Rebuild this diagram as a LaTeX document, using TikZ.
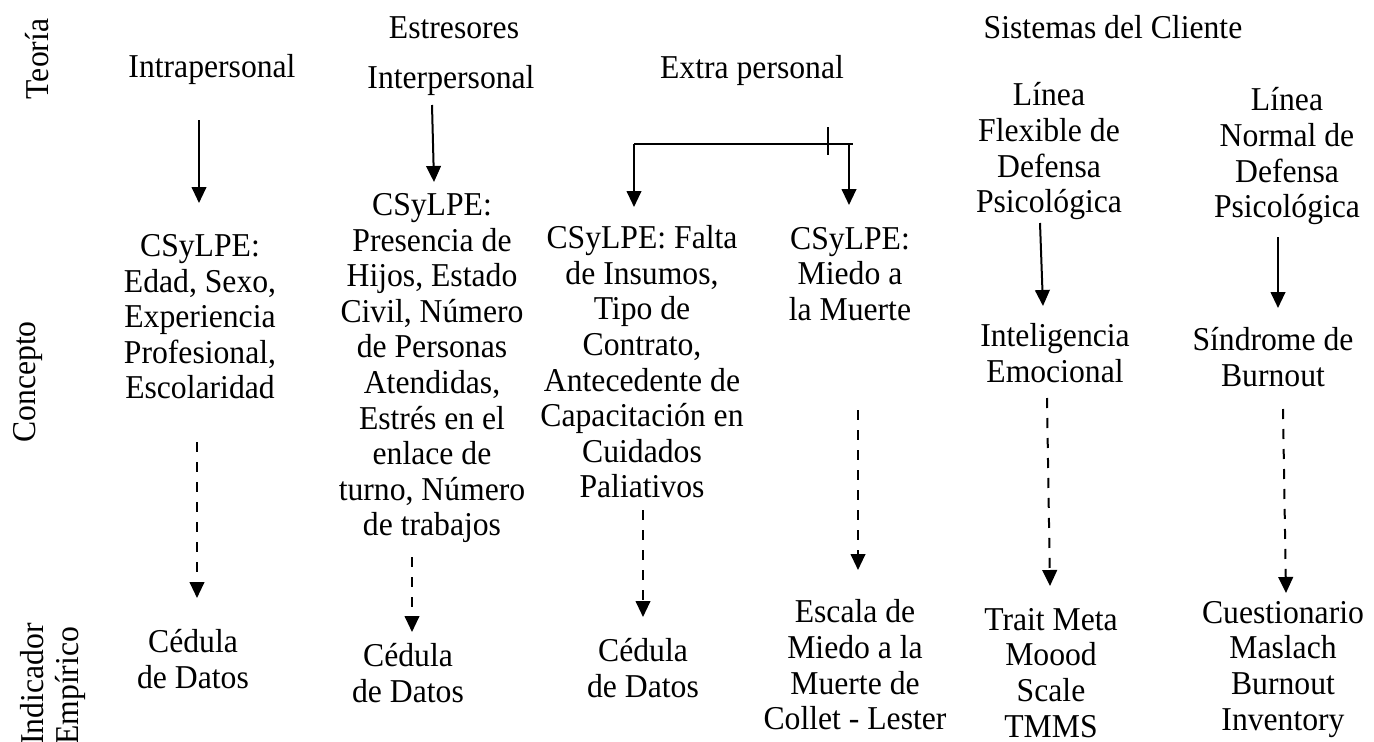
\documentclass[tikz,border=0pt]{standalone}
\usepackage{fontspec}
\setmainfont[FakeStretch=0.95]{Liberation Serif}
\usetikzlibrary{arrows.meta}
\begin{document}
\begin{tikzpicture}[x=0.75pt,y=-0.75pt,
  txt/.style={align=center, inner sep=0pt, font=\fontsize{25}{26.7}\selectfont,
    execute at begin node=\strut, execute at end node=\strut},
  side/.style={txt, rotate=90},
  arr/.style={line width=1.5pt, -{Triangle[width=11pt,length=12pt]}},
  darr/.style={arr, dash pattern=on 7.5pt off 7.5pt},
  thin/.style={line width=1pt},
  tick/.style={line width=0.8pt}]
\useasboundingbox (0,0) rectangle (1374,742);
% side labels
\node[side] (teo) at (41,59) {Teoría};
\node[side] (con) at (28,382) {Concepto};
\node[side, align=left, anchor=north west] (ind) at (20,745) {Indicador\\Empírico};
% headings
\node[txt] (est) at (454,31) {Estresores};
\node[txt] (sis) at (1113,31) {Sistemas del Cliente};
\node[txt] (intra) at (212,70) {Intrapersonal};
\node[txt] (inter) at (451,81) {Interpersonal};
\node[txt] (extra) at (752,71) {Extra personal};
\node[txt] (flex) at (1049,153) {Línea\\Flexible de\\Defensa\\Psicológica};
\node[txt] (norm) at (1287,158) {Línea\\Normal de\\Defensa\\Psicológica};
% concepts
\node[txt] (c1) at (200,322) {CSyLPE:\\Edad, Sexo,\\Experiencia\\Profesional,\\Escolaridad};
\node[txt] (c2) at (432,370) {CSyLPE:\\Presencia de\\Hijos, Estado\\Civil, Número\\de Personas\\Atendidas,\\Estrés en el\\enlace de\\turno, Número\\de trabajos};
\node[txt] (c3) at (642,367) {CSyLPE: Falta\\de Insumos,\\Tipo de\\Contrato,\\Antecedente de\\Capacitación en\\Cuidados\\Paliativos};
\node[txt] (c4) at (850,279) {CSyLPE:\\Miedo a\\la Muerte};
\node[txt] (c5) at (1055,358) {Inteligencia\\Emocional};
\node[txt] (c6) at (1273,362) {Síndrome de\\Burnout};
% indicators
\node[txt] (e1) at (193,664) {Cédula\\de Datos};
\node[txt] (e2) at (408,678) {Cédula\\de Datos};
\node[txt] (e3) at (643,673) {Cédula\\de Datos};
\node[txt] (e4) at (855,670) {Escala de\\Miedo a la\\Muerte de\\Collet - Lester};
\node[txt] (e5) at (1051,678) {Trait Meta\\Moood\\Scale\\TMMS};
\node[txt] (e6) at (1283,671) {Cuestionario\\Maslach\\Burnout\\Inventory};
% connector end points
\coordinate (a1s) at (199,120); \coordinate (a1e) at (199,203);
\coordinate (a2s) at (432,105); \coordinate (a2e) at (434,182);
\coordinate (bl) at (634,144); \coordinate (br) at (853,144);
\coordinate (bra) at (849,144);
\coordinate (b1e) at (634,207); \coordinate (b2e) at (849,205);
\coordinate (tk1) at (828,127); \coordinate (tk2) at (828,155);
\coordinate (a3s) at (1040,223); \coordinate (a3e) at (1043,306);
\coordinate (a4s) at (1278,237); \coordinate (a4e) at (1278,308);
\coordinate (d1s) at (197,442); \coordinate (d1e) at (197,598);
\coordinate (d2s) at (412,557); \coordinate (d2e) at (412,632);
\coordinate (d3s) at (643,510); \coordinate (d3e) at (643,617);
\coordinate (d4s) at (858,410); \coordinate (d4e) at (858,570);
\coordinate (d5s) at (1047,398); \coordinate (d5e) at (1050,586);
\coordinate (d6s) at (1283,409); \coordinate (d6e) at (1286,593);
% solid arrows
\draw[arr] (a1s) -- (a1e);
\draw[arr] (a2s) -- (a2e);
\draw[thin] (bl) -- (br);
\draw[tick] (tk1) -- (tk2);
\draw[arr] (bl) -- (b1e);
\draw[arr] (bra) -- (b2e);
\draw[arr] (a3s) -- (a3e);
\draw[arr] (a4s) -- (a4e);
% dashed arrows
\draw[darr] (d1s) -- (d1e);
\draw[darr] (d2s) -- (d2e);
\draw[darr] (d3s) -- (d3e);
\draw[darr] (d4s) -- (d4e);
\draw[darr] (d5s) -- (d5e);
\draw[darr] (d6s) -- (d6e);
\end{tikzpicture}
\end{document}
